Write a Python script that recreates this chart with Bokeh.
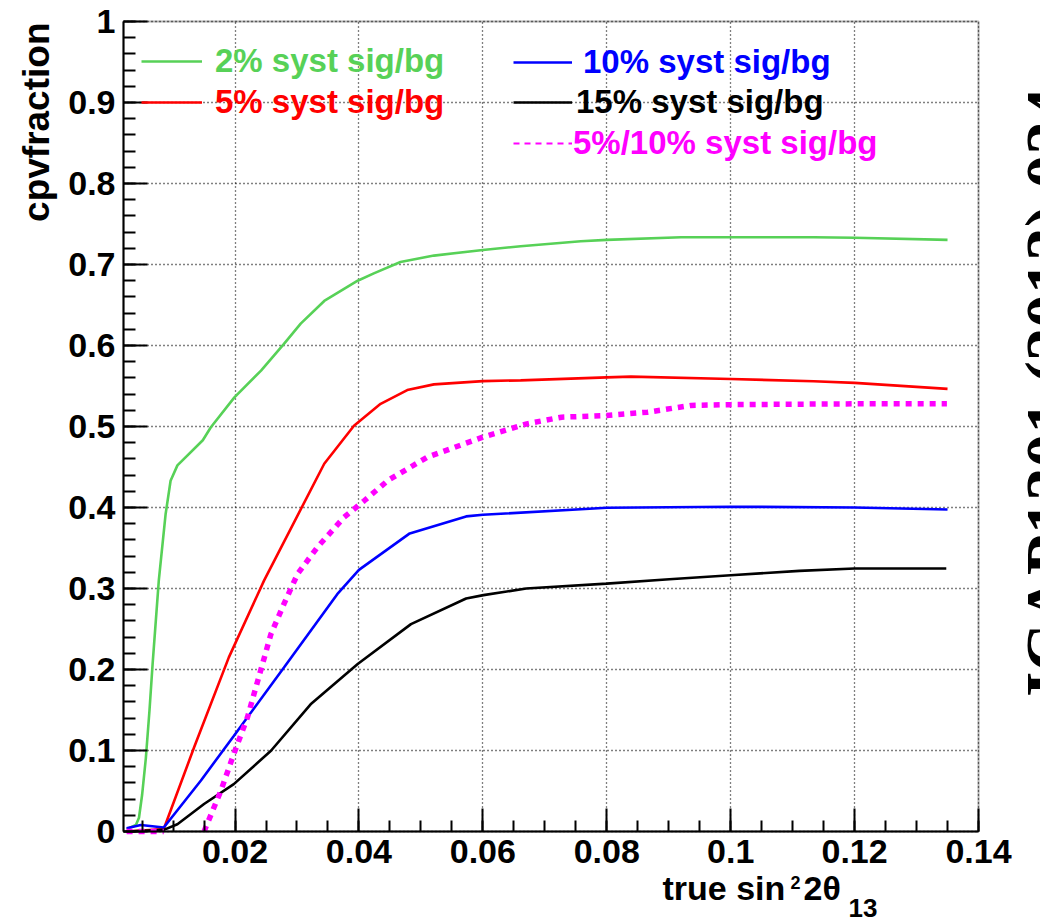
import numpy as np
from bokeh.plotting import figure
from bokeh.models import Range1d, FixedTicker, Label, Legend, LegendItem, BoxAnnotation
from bokeh.embed import file_html
from bokeh.resources import INLINE

NAN = float("nan")

# ---------------- data ----------------
x_green = [0.0025, 0.0040, 0.0045, 0.0050, 0.0056, 0.0062, 0.0067, 0.0077, 0.0088, 0.0096,
           0.0107, 0.0148, 0.0161, 0.0199, 0.0242, 0.0279, 0.0306, 0.0344, 0.0398, 0.0424,
           0.0467, 0.0521, 0.0600, 0.0661, 0.0758, 0.0800, 0.0920, 0.1000, 0.1134, 0.1200,
           0.1350]
y_green = [0.003, 0.008, 0.017, 0.045, 0.090, 0.150, 0.207, 0.310, 0.392, 0.433,
           0.452, 0.483, 0.499, 0.536, 0.569, 0.602, 0.627, 0.655, 0.680, 0.689,
           0.703, 0.711, 0.718, 0.7225, 0.7287, 0.7304, 0.7336, 0.7336, 0.7336, 0.7330,
           0.7304]

x_red = [0.0025, 0.0085, 0.0134, 0.0190, 0.0247, 0.0344, 0.0392, 0.0435,
         0.0478, 0.0521, 0.0600, 0.0661, 0.0800, 0.0839, 0.1000, 0.1134, 0.1200, 0.1350]
y_red = [0.000, 0.003, 0.104, 0.215, 0.310, 0.454, 0.501, 0.528,
         0.545, 0.552, 0.556, 0.557, 0.5607, 0.5616, 0.5587, 0.5558, 0.5538, 0.5464]

x_blue = [0.0025, 0.0048, 0.0085, 0.0145, 0.0198, 0.0279, 0.0365, 0.0400,
          0.0482, 0.0573, 0.0600, 0.0800, 0.1000, 0.1200, 0.1350]
y_blue = [0.004, 0.008, 0.005, 0.063, 0.118, 0.2025, 0.293, 0.323,
          0.368, 0.389, 0.391, 0.3996, 0.401, 0.400, 0.3975]

x_black = [0.0025, 0.0085, 0.0107, 0.0150, 0.0198, 0.0258, 0.0322, 0.0398, 0.0484, 0.0573,
           0.0601, 0.0670, 0.0800, 0.0901, 0.1000, 0.1111, 0.1200, 0.1348]
y_black = [0.000, 0.002, 0.009, 0.034, 0.0585, 0.0997, 0.157, 0.2067, 0.256, 0.2877,
           0.2918, 0.300, 0.306, 0.3115, 0.3164, 0.3218, 0.3246, 0.3246]

x_mag = [0.0025, 0.0085, NAN, 0.0150, 0.0177, 0.0198, 0.0220, 0.0258, 0.0279,
         0.0301, 0.0333, 0.0376, 0.0408, 0.0447, 0.0510, 0.0600, 0.0671, 0.0727,
         0.0800, 0.0866, 0.0936, 0.1000, 0.1200, 0.1349]
y_mag = [0.000, 0.000, NAN, 0.000, 0.050, 0.0956, 0.1408, 0.2438, 0.281,
         0.318, 0.351, 0.388, 0.408, 0.4335, 0.462, 0.4869, 0.5033, 0.5115,
         0.5136, 0.5177, 0.526, 0.527, 0.528, 0.528]

series_labels = ["2% syst sig/bg", "5% syst sig/bg", "10% syst sig/bg",
                 "15% syst sig/bg", "5%/10% syst sig/bg"]
series_colors = ["#57D157", "#FF0000", "#0000FF", "#000000", "#FF00FF"]

x_ticks = [0.02, 0.04, 0.06, 0.08, 0.1, 0.12, 0.14]
x_tick_labels = ["0.02", "0.04", "0.06", "0.08", "0.1", "0.12", "0.14"]
y_ticks = [0.0, 0.1, 0.2, 0.3, 0.4, 0.5, 0.6, 0.7, 0.8, 0.9, 1.0]
y_tick_labels = ["0", "0.1", "0.2", "0.3", "0.4", "0.5", "0.6", "0.7", "0.8", "0.9", "1"]

x_title_parts = ["true sin", "2", "2\u03b8", "13"]
y_title = "cpvfraction"
watermark = "JCAP1301 (2013) 024"

FONT = "Liberation Sans"
X0, X1, Y0, Y1 = 0.002, 0.14, 0.0, 1.0

# ---------------- geometry ----------------
W, H = 1040, 922
BOX_L, BOX_R, BOX_T, BOX_B = 123, 978, 21, 831      # plot box in page pixels
kx = (BOX_R - BOX_L) / (X1 - X0)
ky = (BOX_B - BOX_T) / (Y1 - Y0)
# the frame covers the whole page; ranges extended so the box sits where it should
xr = Range1d(X0 - BOX_L / kx, X1 + (W - BOX_R) / kx)
yr = Range1d(Y0 - (H - BOX_B) / ky, Y1 + BOX_T / ky)

p = figure(width=W, height=H, x_range=xr, y_range=yr,
           output_backend="svg", toolbar_location=None,
           min_border=0, min_border_left=0, min_border_right=0,
           min_border_top=0, min_border_bottom=0)
p.background_fill_color = "white"
p.border_fill_color = "white"
p.outline_line_color = None

xt = FixedTicker(ticks=x_ticks, minor_ticks=[round(0.005 * i, 3) for i in range(1, 29)])
yt = FixedTicker(ticks=y_ticks, minor_ticks=[round(0.02 * i, 2) for i in range(0, 51)])
p.xaxis.ticker = xt
p.yaxis.ticker = yt
p.xgrid.ticker = xt
p.ygrid.ticker = yt
p.xaxis.major_label_overrides = dict(zip(x_ticks, x_tick_labels))
p.yaxis.major_label_overrides = dict(zip(y_ticks, y_tick_labels))
p.xaxis.fixed_location = Y0
p.yaxis.fixed_location = X0
p.xaxis.bounds = (X0, X1)
p.yaxis.bounds = (Y0, Y1)

for ax in (p.xaxis[0], p.yaxis[0]):
    ax.axis_line_width = 2
    ax.axis_line_color = "black"
    ax.major_tick_line_width = 2
    ax.minor_tick_line_width = 2
    ax.major_tick_out = 0
    ax.minor_tick_out = 0
    ax.major_label_text_font = FONT
    ax.major_label_text_font_style = "bold"
    ax.major_label_text_font_size = "34px"
    ax.major_label_text_color = "black"
    ax.axis_label = None
p.xaxis.major_tick_in = 23
p.xaxis.minor_tick_in = 11
p.yaxis.major_tick_in = 24
p.yaxis.minor_tick_in = 12
p.xaxis.major_label_standoff = 8
p.yaxis.major_label_standoff = 8

for g, cb in ((p.xgrid[0], (Y0, Y1)), (p.ygrid[0], (X0, X1))):
    g.grid_line_color = "black"
    g.grid_line_width = 1.3
    g.grid_line_dash = "1 3"
    if "cross_bounds" in type(g).properties():
        g.cross_bounds = cb

p.add_layout(BoxAnnotation(left=X0, right=X1, bottom=Y0, top=Y1,
                           fill_alpha=0, line_color="black", line_width=2))

# ---------------- curves ----------------
xs = [x_green, x_red, x_blue, x_black, x_mag]
ys = [y_green, y_red, y_blue, y_black, y_mag]
renderers = []
for i, (xx, yy) in enumerate(zip(xs, ys)):
    if i == 4:
        r = p.line(xx, yy, line_color=series_colors[i], line_width=5.5, line_dash="6 6")
    else:
        r = p.line(xx, yy, line_color=series_colors[i], line_width=2.6)
    renderers.append(r)

# legend sample for the magenta entry: thin dashed, as drawn in the legend box
legend_mag = p.line(x_mag, y_mag, line_color=series_colors[4], line_width=2,
                    line_dash="6 5", visible=False)
legend_renderers = renderers[:4] + [legend_mag]

# ---------------- legends ----------------
# (page x of sample start, page y of row centre, sample width, standoff)
legend_geom = [(141, 61, 61, 13), (141, 102, 61, 13),
               (513, 62, 59, 11), (513, 102, 59, 4), (513, 143, 59, 1)]
ROW = 40
for i, (lx, ly, gw, so) in enumerate(legend_geom):
    lg = Legend(items=[LegendItem(label=series_labels[i], renderers=[legend_renderers[i]])],
                location=(lx, H - ly - ROW / 2), padding=0, margin=0, spacing=0,
                border_line_color=None, background_fill_alpha=0,
                inactive_fill_alpha=0,
                glyph_width=gw, glyph_height=ROW, label_height=ROW, label_standoff=so,
                label_text_font=FONT, label_text_font_style="bold",
                label_text_font_size="33px", label_text_color=series_colors[i])
    p.add_layout(lg)

# ---------------- titles (page pixels: x from left, y from top of the text's baseline) ----
BASE_SHIFT = 0.38   # rendered baseline sits this many em below the anchor


def add_text(t, sx, sy, size_px, angle=0.0, align="left", font=FONT):
    if angle == 0.0:
        sy = sy - BASE_SHIFT * size_px
    else:
        sx = sx - BASE_SHIFT * size_px
    p.add_layout(Label(x=sx, y=H - sy, x_units="screen", y_units="screen", text=t,
                       angle=angle, text_align=align, text_baseline="alphabetic",
                       text_font=font, text_font_style="bold",
                       text_font_size=f"{size_px}px", text_color="black"))


add_text(y_title, 50, 22, 37, angle=np.pi / 2, align="right")

x_parts_geom = [(662, 900, 34), (790, 889, 18), (803, 900, 34), (848, 917, 26)]
for t, (sx, sy, fs) in zip(x_title_parts, x_parts_geom):
    add_text(t, sx, sy, fs)

add_text(watermark, 1074, 705, 67, angle=np.pi / 2, font="Liberation Serif")

open("out.html", "w").write(file_html(p, INLINE))
